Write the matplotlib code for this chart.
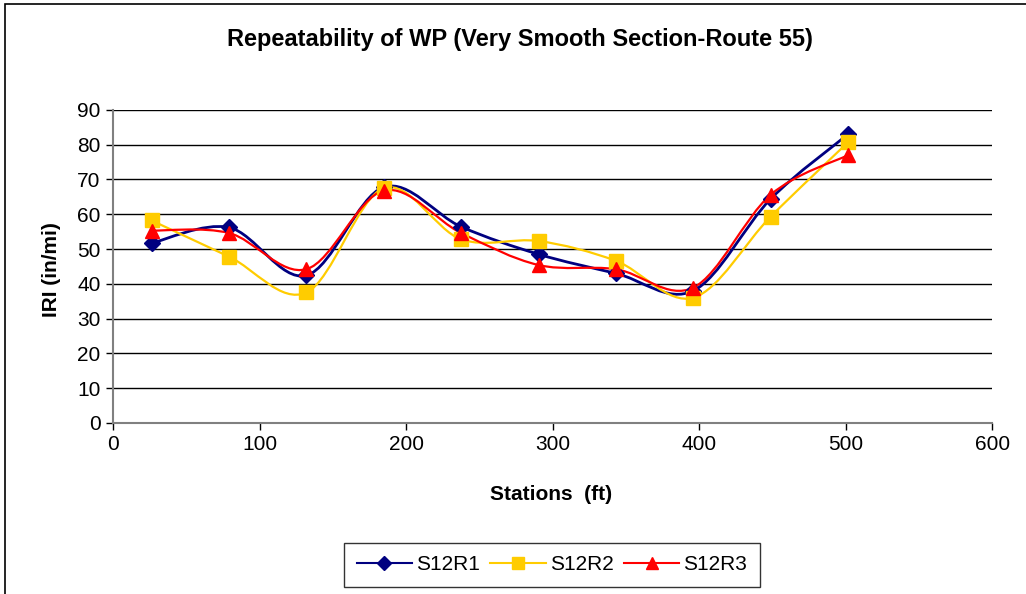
import matplotlib.pyplot as plt
from matplotlib.path import Path
from matplotlib.patches import PathPatch, Rectangle
from matplotlib.lines import Line2D

plt.rcParams['font.family'] = ['Liberation Sans', 'DejaVu Sans']

stations = [26.4, 79.2, 132.0, 184.8, 237.6, 290.4, 343.2, 396.0, 448.8, 501.6]
s12r1 = [51.7, 56.2, 42.4, 67.8, 56.4, 48.5, 43.0, 38.0, 64.4, 83.0]
s12r2 = [58.2, 47.8, 37.5, 67.5, 52.8, 52.3, 46.6, 36.0, 59.3, 80.7]
s12r3 = [55.3, 54.6, 44.2, 66.8, 54.6, 45.4, 44.2, 38.9, 65.6, 77.0]

names = ['S12R1', 'S12R2', 'S12R3']
colors = ['#000080', '#FFCC00', '#FF0000']
markers = ['D', 's', '^']
msizes = [8, 10, 10]
lws = [2.0, 1.6, 1.6]


def smooth_path(xs, ys):
    # excel style smoothed line: cubic bezier between the points
    verts = [(xs[0], ys[0])]
    codes = [Path.MOVETO]
    n = len(xs)
    for i in range(n - 1):
        x0, y0 = (xs[i - 1], ys[i - 1]) if i > 0 else (xs[i], ys[i])
        x1, y1 = xs[i], ys[i]
        x2, y2 = xs[i + 1], ys[i + 1]
        x3, y3 = (xs[i + 2], ys[i + 2]) if i + 2 < n else (x2, y2)
        c1 = (x1 + (x2 - x0) / 6.0, y1 + (y2 - y0) / 6.0)
        c2 = (x2 - (x3 - x1) / 6.0, y2 - (y3 - y1) / 6.0)
        verts += [c1, c2, (x2, y2)]
        codes += [Path.CURVE4] * 3
    return Path(verts, codes)


fig = plt.figure(figsize=(10.26, 5.94), dpi=100)
ax = fig.add_axes([0.1101, 0.288, 0.857, 0.527])

handles = []
for ys, name, c, m, ms, lw in zip([s12r1, s12r2, s12r3], names, colors, markers, msizes, lws):
    ax.add_patch(PathPatch(smooth_path(stations, ys), facecolor='none', edgecolor=c, lw=lw, zorder=3))
    ax.plot(stations, ys, linestyle='none', marker=m, color=c, markersize=ms, zorder=4)
    handles.append(Line2D([], [], color=c, lw=1.5, marker=m, markersize=ms * 0.85, label=name))

ax.set_xlim(0, 600)
ax.set_ylim(0, 90)
ax.set_xticks(range(0, 601, 100))
ax.set_yticks(range(0, 91, 10))
ax.yaxis.grid(True, color='black', lw=1.0)
ax.set_axisbelow(True)
for s in ['top', 'right']:
    ax.spines[s].set_visible(False)
for s in ['left', 'bottom']:
    ax.spines[s].set_color('#808080')
    ax.spines[s].set_linewidth(1.5)
ax.tick_params(axis='both', direction='out', length=5, width=1, color='black', labelsize=15, pad=4)

fig.text(0.507, 0.933, 'Repeatability of WP (Very Smooth Section-Route 55)', fontsize=17,
         fontweight='bold', ha='center', va='center')
fig.text(0.537, 0.167, 'Stations  (ft)', fontsize=15, fontweight='bold', ha='center', va='center')
fig.text(0.05, 0.547, 'IRI (in/mi)', fontsize=15, fontweight='bold', ha='center', va='center',
         rotation=90)

leg = fig.legend(handles=handles, loc='center', bbox_to_anchor=(0.538, 0.049), ncol=3,
                 fontsize=15, frameon=True, fancybox=False, edgecolor='black',
                 handlelength=2.65, columnspacing=0.5, handletextpad=0.2, borderpad=0.6,
                 borderaxespad=0)
leg.get_frame().set_linewidth(1.0)

fig.patches.append(Rectangle((5 / 1026, -0.1), 1.2, 1.1 - 4 / 594, transform=fig.transFigure,
                             fill=False, edgecolor='black', lw=1.2))

fig.savefig('out.png', dpi=100)
